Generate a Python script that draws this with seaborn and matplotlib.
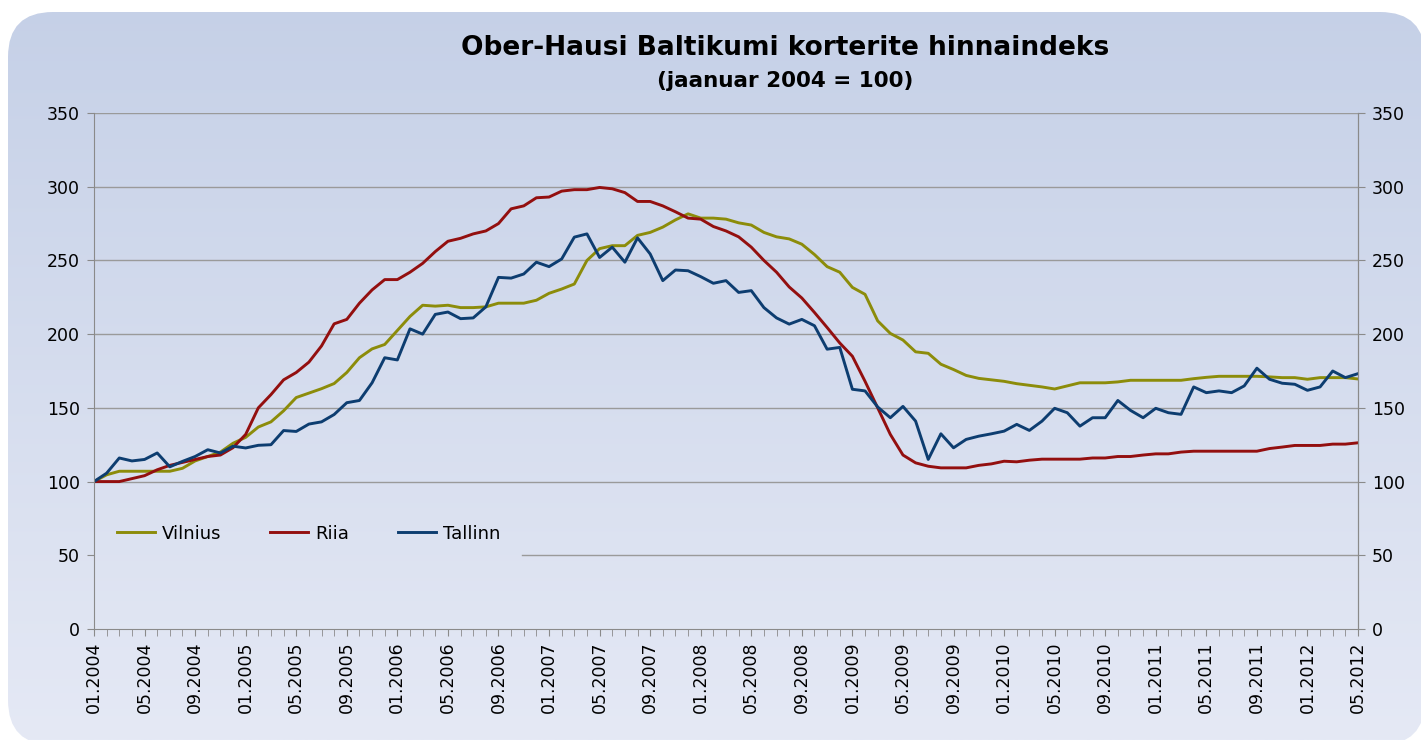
import matplotlib
matplotlib.use("Agg")
import matplotlib.pyplot as plt
from matplotlib.patches import FancyBboxPatch
from matplotlib.ticker import FixedLocator, MultipleLocator
import numpy as np
import pandas as pd
import seaborn as sns

# ------------------------------------------------------------
# Data (index, jaanuar 2004 = 100), monthly 01.2004 - 05.2012
# ------------------------------------------------------------
MONTHS = pd.date_range("2004-01-01", "2012-05-01", freq="MS").strftime("%m.%Y").tolist()

VILNIUS = [
    100, 104.6, 107, 107, 107, 107, 107, 109, 114, 117, 120, 126, 130, 137, 140.5, 148,
    157, 160, 163, 166.5, 174, 184, 190, 193, 202.5, 212, 219.6, 219, 219.6, 218, 218, 218.5,
    221, 221, 221, 223, 227.7, 230.6, 234, 250, 258, 260, 260, 267, 269, 272.6, 277.5, 281.6,
    278.7, 278.7, 278, 275.5, 274, 269, 266, 264.6, 261, 254, 245.8, 242, 231.7, 227, 209, 200.5,
    196, 188, 187, 179.6, 176, 172, 170, 169, 168, 166.4, 165.3, 164.2, 162.8, 164.9, 167, 167,
    167, 167.6, 168.7, 168.7, 168.7, 168.7, 168.7, 169.8, 170.7, 171.4, 171.4, 171.4, 171.4, 171,
    170.5, 170.5, 169.4, 170.5, 170.5, 170.5, 169.6,
]
RIIA = [
    100, 100, 100, 102, 104, 108, 111, 113, 115, 117, 118, 123, 132, 150, 159, 169,
    174, 181, 192, 207, 210, 221, 230, 237, 237, 242, 248, 256, 263, 265, 268, 270,
    275, 285, 287, 292.5, 293, 297, 298, 298, 299.5, 298.6, 296, 290, 290, 287, 283, 278.7,
    278, 273, 270, 266, 259, 250, 242, 232, 224.5, 214.7, 204.5, 194, 185, 168, 150, 132,
    118, 112.7, 110.4, 109.3, 109.3, 109.3, 111, 112, 113.8, 113.4, 114.5, 115.2, 115.2, 115.2, 115.2, 116,
    116, 117, 117, 118, 118.8, 118.8, 120, 120.6, 120.6, 120.6, 120.6, 120.6, 120.6, 122.4,
    123.4, 124.5, 124.5, 124.5, 125.4, 125.4, 126.3,
]
TALLINN = [
    100, 105.7, 116, 114, 115, 119.4, 110, 113.7, 117, 121.6, 119.4, 124, 122.8, 124.6, 125, 134.6,
    134, 139, 140.5, 145.5, 153.5, 155, 167, 184, 182.5, 203.6, 200, 213.4, 215, 210.5, 211, 218.5,
    238.5, 238, 240.8, 248.8, 245.8, 251, 265.8, 268, 252, 259, 248.8, 265.3, 254.4, 236.3, 243.5, 243,
    239, 234.5, 236.3, 228.3, 229.5, 218, 211, 206.8, 210, 205.7, 189.8, 191, 162.6, 161.5, 150.6, 143.3,
    151, 141, 115, 132.4, 122.9, 128.6, 130.8, 132.4, 134.2, 138.8, 134.7, 141, 149.7, 146.7, 137.6, 143.3,
    143.3, 155, 148.3, 143.3, 149.7, 146.7, 145.6, 164.2, 160.3, 161.5, 160.3, 164.9, 176.9, 169.4,
    166.7, 166, 161.9, 164.2, 175, 170.5, 173.2,
]

CITIES = ["Vilnius", "Riia", "Tallinn"]
PALETTE = {"Vilnius": "#8c8c0a", "Riia": "#930f0f", "Tallinn": "#0d3d70"}

Y_TICKS = [0, 50, 100, 150, 200, 250, 300, 350]
TITLE = "Ober-Hausi Baltikumi korterite hinnaindeks"
SUBTITLE = "(jaanuar 2004 = 100)"

W, H = 1421, 740
BG_TOP = np.array([197, 208, 231]) / 255
BG_BOTTOM = np.array([229, 233, 245]) / 255
GRID = "#9a9a9a"
SPINE = "#8a8a8a"

df = pd.DataFrame({"idx": np.arange(len(MONTHS)), "Vilnius": VILNIUS, "Riia": RIIA, "Tallinn": TALLINN})
long = df.melt(id_vars="idx", var_name="city", value_name="value")

plt.rcParams["font.family"] = ["DejaVu Sans"]
fig = plt.figure(figsize=(W / 100, H / 100), dpi=100)
fig.patch.set_facecolor("white")

# background panel with rounded corners and vertical gradient
bg_ax = fig.add_axes([0, 0, 1, 1], zorder=-5)
bg_ax.set_xlim(0, W)
bg_ax.set_ylim(H, 0)
bg_ax.axis("off")
grad = np.linspace(0, 1, 256)[:, None, None]
img = BG_TOP * (1 - grad) + BG_BOTTOM * grad
im = bg_ax.imshow(np.repeat(img, 2, axis=1), extent=[0, W, H, 0], aspect="auto")
panel = FancyBboxPatch((8, 12), 1417, 733, boxstyle="round,pad=0,rounding_size=45",
                       transform=bg_ax.transData, facecolor="none", edgecolor="none")
bg_ax.add_patch(panel)
im.set_clip_path(panel)

ax = fig.add_axes([94 / W, 1 - 629 / H, (1358 - 94) / W, (629 - 113) / H])
ax.patch.set_alpha(0)

sns.lineplot(data=long, x="idx", y="value", hue="city", hue_order=CITIES, palette=PALETTE,
             linewidth=2.1, ax=ax)

ax.set_xlim(0, len(MONTHS) - 1)
ax.set_ylim(0, 350)
ax.set_xlabel("")
ax.set_ylabel("")
ax.set_yticks(Y_TICKS)

# gridlines; the 50 line is hidden behind the legend area like in Excel
for v in Y_TICKS[1:]:
    ax.axhline(v, xmin=0.339 if v == 50 else 0, xmax=1, color=GRID, linewidth=1.0, zorder=0)

major = list(range(0, len(MONTHS), 4))
ax.xaxis.set_major_locator(FixedLocator(major))
ax.set_xticklabels([MONTHS[i] for i in major], rotation=90, fontsize=12.5)
ax.xaxis.set_minor_locator(MultipleLocator(1))
ax.tick_params(axis="x", which="both", length=5, color=SPINE, pad=4)
ax.tick_params(axis="y", length=5, color=SPINE, labelsize=12.5, pad=5)

ax.spines["top"].set_visible(False)
for side in ["left", "bottom", "right"]:
    ax.spines[side].set_color(SPINE)

ax2 = ax.twinx()
ax2.set_ylim(0, 350)
ax2.set_yticks(Y_TICKS)
ax2.tick_params(axis="y", length=5, color=SPINE, labelsize=12.5, pad=5)
for side in ["top", "left", "bottom"]:
    ax2.spines[side].set_visible(False)
ax2.spines["right"].set_color(SPINE)

ax.legend(loc="center left", bbox_to_anchor=(-0.002, 0.185), ncol=3, frameon=False,
          fontsize=13, handlelength=2.1, handletextpad=0.4, columnspacing=2.7,
          borderpad=0.9)

fig.text(0.5525, 1 - 48 / H, TITLE, ha="center", va="center", fontsize=19, fontweight="bold")
fig.text(0.5525, 1 - 81 / H, SUBTITLE, ha="center", va="center", fontsize=15.5, fontweight="bold")

fig.savefig("out.png", dpi=100)
